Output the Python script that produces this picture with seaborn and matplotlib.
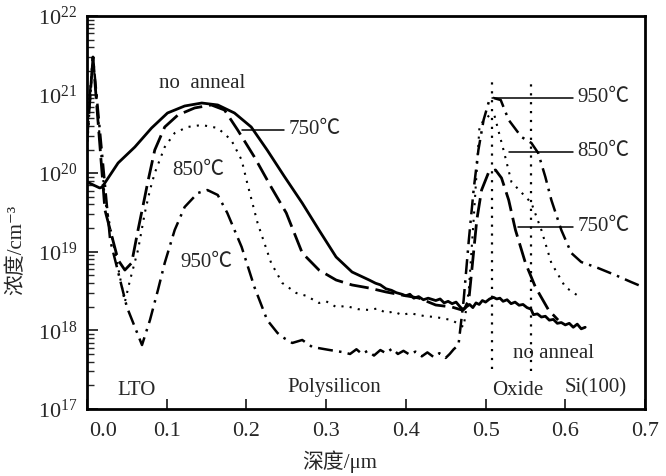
import numpy as np
import pandas as pd
import matplotlib
matplotlib.use("Agg")
import matplotlib.pyplot as plt
import matplotlib.transforms as mtransforms
from matplotlib.ticker import LogLocator, FixedLocator, NullFormatter
import seaborn as sns

# ---------------- data ----------------
# depth in um, concentration given as log10(cm^-3)
noanneal_x = [0, 0.016, 0.019, 0.039, 0.06, 0.081, 0.101, 0.1225, 0.144, 0.164,
              0.185, 0.206, 0.226, 0.2475, 0.27, 0.291, 0.3125, 0.3325,
              0.354, 0.362, 0.368, 0.375, 0.382, 0.388, 0.395, 0.40, 0.405, 0.41,
              0.416, 0.422, 0.428, 0.4375, 0.443, 0.448, 0.453, 0.458, 0.463,
              0.468, 0.472, 0.476, 0.48, 0.484, 0.488, 0.492, 0.496, 0.50, 0.505,
              0.51, 0.514, 0.518, 0.522, 0.527, 0.532, 0.537, 0.542, 0.547, 0.552,
              0.557, 0.56, 0.565, 0.57, 0.575, 0.58, 0.585, 0.59, 0.595, 0.60,
              0.605, 0.61, 0.615, 0.62, 0.625]
noanneal_log = [19.888, 19.812, 19.824, 20.130, 20.333, 20.575, 20.766, 20.855,
                20.893, 20.868, 20.766, 20.588, 20.295, 19.96, 19.62,
                19.277, 18.934, 18.743, 18.641, 18.60, 18.58, 18.53, 18.51, 18.48,
                18.46, 18.44, 18.46, 18.41, 18.43, 18.39, 18.41, 18.38, 18.40,
                18.35, 18.37, 18.34, 18.36, 18.30, 18.26, 18.30, 18.33, 18.29,
                18.35, 18.33, 18.38, 18.36, 18.40, 18.42, 18.40, 18.41, 18.37,
                18.39, 18.34, 18.36, 18.32, 18.33, 18.29, 18.27, 18.20, 18.21,
                18.17, 18.18, 18.13, 18.14, 18.09, 18.10, 18.07, 18.09, 18.04,
                18.08, 18.02, 18.04]

t750_x = [0, 0.0075, 0.0225, 0.039, 0.0475, 0.056, 0.064, 0.0725, 0.076, 0.085,
          0.0975, 0.114, 0.135, 0.156, 0.1725, 0.189, 0.21, 0.231, 0.25, 0.27,
          0.291, 0.3125, 0.3325, 0.354, 0.375, 0.395, 0.416, 0.4375, 0.4575,
          0.47, 0.474, 0.479, 0.484, 0.489, 0.495, 0.504, 0.5125, 0.52, 0.529,
          0.5375, 0.55, 0.5625, 0.579, 0.591]
t750_log = [20.42, 21.478, 19.532, 18.896, 18.768, 18.858, 19.277, 19.697, 19.875,
            20.295, 20.588, 20.740, 20.830, 20.868, 20.804, 20.550, 20.206, 19.824,
            19.494, 18.985, 18.768, 18.641, 18.578, 18.539, 18.489, 18.450, 18.412,
            18.323, 18.298, 18.260, 18.285, 18.387, 18.896, 19.405, 19.786, 20.015,
            20.041, 19.939, 19.659, 19.277, 18.858, 18.552, 18.260, 18.132]

t850_x = [0, 0.0075, 0.0225, 0.0475, 0.054, 0.064, 0.0725, 0.079, 0.085, 0.0975,
          0.11, 0.126, 0.144, 0.164, 0.181, 0.194, 0.201, 0.214, 0.231, 0.245,
          0.2625, 0.275, 0.291, 0.30, 0.3125, 0.325, 0.34, 0.354, 0.365, 0.375,
          0.385, 0.395, 0.405, 0.416, 0.425, 0.4375, 0.4475, 0.4575, 0.4725,
          0.479, 0.485, 0.4925, 0.505, 0.511, 0.5225, 0.5325, 0.5575, 0.57,
          0.5825, 0.6, 0.62]
t850_log = [20.295, 21.478, 19.659, 18.361, 18.641, 19.023, 19.494, 19.786, 20.003,
            20.333, 20.511, 20.588, 20.613, 20.575, 20.422, 20.168, 19.875, 19.366,
            18.858, 18.603, 18.476, 18.44, 18.349, 18.37, 18.298, 18.31, 18.27,
            18.260, 18.28, 18.221, 18.24, 18.196, 18.22, 18.196, 18.18, 18.170,
            18.15, 18.132, 18.043, 18.514, 19.405, 20.613, 20.74, 20.74, 20.295,
            19.888, 19.621, 19.277, 18.858, 18.552, 18.412]

t950_x = [0, 0.0075, 0.029, 0.05, 0.069, 0.079, 0.089, 0.0975, 0.11, 0.1225, 0.139,
          0.151, 0.164, 0.176, 0.194, 0.21, 0.226, 0.239, 0.245, 0.2575, 0.27,
          0.2825, 0.304, 0.32, 0.33, 0.338, 0.345, 0.352, 0.36, 0.368, 0.375,
          0.383, 0.39, 0.397, 0.405, 0.412, 0.42, 0.427, 0.435, 0.442, 0.45,
          0.455, 0.46, 0.466, 0.4725, 0.479, 0.485, 0.491, 0.4975, 0.504, 0.51,
          0.519, 0.529, 0.545, 0.5575, 0.566, 0.575, 0.5825, 0.595, 0.6075,
          0.62, 0.641, 0.6625, 0.6825, 0.6975]
t950_log = [20.55, 21.478, 19.150, 18.298, 17.814, 18.132, 18.514, 18.858, 19.277,
            19.570, 19.748, 19.786, 19.723, 19.494, 19.061, 18.552, 18.132, 17.967,
            17.916, 17.840, 17.878, 17.789, 17.751, 17.725, 17.70, 17.76, 17.70,
            17.74, 17.68, 17.75, 17.71, 17.77, 17.70, 17.74, 17.69, 17.73, 17.67,
            17.72, 17.66, 17.71, 17.65, 17.70, 17.76, 17.814, 18.387, 19.150,
            19.786, 20.295, 20.677, 20.906, 20.957, 20.931, 20.677, 20.461, 20.384,
            20.257, 19.952, 19.659, 19.277, 18.985, 18.870, 18.794, 18.705, 18.616,
            18.552]

# interface markers (oxide boundaries)
boundary_x = [0.5075, 0.5575]
x_ticks = [0.0, 0.1, 0.2, 0.3, 0.4, 0.5, 0.6, 0.7]
x_ticklabels = ["0.0", "0.1", "0.2", "0.3", "0.4", "0.5", "0.6", "0.7"]
y_ticks = [1e17, 1e18, 1e19, 1e20, 1e21, 1e22]

# ---------------- style ----------------
sns.set_style("ticks")
plt.rcParams["font.family"] = ["Liberation Serif", "Noto Sans CJK SC", "DejaVu Serif"]
plt.rcParams["mathtext.fontset"] = "custom"
plt.rcParams["mathtext.rm"] = "Liberation Serif"
plt.rcParams["mathtext.it"] = "Liberation Serif:italic"

fig = plt.figure(figsize=(6.66, 4.76), dpi=100)
ax = fig.add_axes([87 / 666, 1 - 409 / 476, (645 - 87) / 666, (409 - 16) / 476])

def draw(xs, logs, ls, lw):
    df = pd.DataFrame({"depth": xs, "conc": 10 ** np.array(logs)})
    sns.lineplot(data=df, x="depth", y="conc", ax=ax, color="black",
                 linestyle=ls, linewidth=lw, estimator=None, sort=False)

draw(noanneal_x, noanneal_log, "-", 2.0)
draw(t750_x, t750_log, (0, (7, 2.5)), 2.0)
draw(t850_x, t850_log, (0, (1, 3)), 1.5)
draw(t950_x, t950_log, (0, (6, 2.5, 1, 2.5)), 1.8)

ax.set_yscale("log")
ax.set_xlim(0, 0.7)
ax.set_ylim(1e17, 1e22)

ax.vlines(boundary_x, [3.2e17, 3.0e17], [1.45e21, 1.45e21], colors="black",
          linestyles=(0, (1, 3)), linewidth=1.6)

# annotation leader lines
ax.plot([0.195, 0.2475], [10 ** 20.55] * 2, color="black", lw=1.1)
ax.plot([0.5075, 0.61], [10 ** 20.957] * 2, color="black", lw=1.1)
ax.plot([0.529, 0.61], [10 ** 20.27] * 2, color="black", lw=1.1)
ax.plot([0.541, 0.61], [10 ** 19.316] * 2, color="black", lw=1.1)

fs = 15
ax.text(0.2525, 10 ** 20.55, "750℃", fontsize=fs, va="center", ha="left")
ax.text(0.615, 10 ** 20.957, "950℃", fontsize=fs, va="center", ha="left")
ax.text(0.615, 10 ** 20.27, "850℃", fontsize=fs, va="center", ha="left")
ax.text(0.615, 10 ** 19.316, "750℃", fontsize=fs, va="center", ha="left")
ax.text(0.145, 10 ** 21.14, "no  anneal", fontsize=fs, va="center", ha="center")
ax.text(0.14, 10 ** 20.04, "850℃", fontsize=fs, va="center", ha="center")
ax.text(0.15, 10 ** 18.87, "950℃", fontsize=fs, va="center", ha="center")
ax.text(0.585, 10 ** 17.71, "no anneal", fontsize=fs, va="center", ha="center")
ax.text(0.0625, 10 ** 17.24, "LTO", fontsize=fs, va="center", ha="center")
ax.text(0.31, 10 ** 17.27, "Polysilicon", fontsize=fs, va="center", ha="center")
ax.text(0.54, 10 ** 17.23, "Oxide", fontsize=fs, va="center", ha="center")
ax.text(0.638, 10 ** 17.27, "Si(100)", fontsize=fs, va="center", ha="center")

# axes, ticks
ax.xaxis.set_major_locator(FixedLocator(x_ticks))
ax.set_xticklabels(x_ticklabels, fontsize=16)
ax.yaxis.set_major_locator(FixedLocator(y_ticks))
ax.set_yticklabels([r"$\mathdefault{10^{%d}}$" % e for e in range(17, 23)], fontsize=16)
ax.yaxis.set_minor_locator(LogLocator(base=10, subs=np.arange(2, 10), numticks=20))
ax.yaxis.set_minor_formatter(NullFormatter())
ax.tick_params(axis="x", direction="in", length=7, width=1.3, pad=9)
ax.tick_params(axis="y", which="major", direction="in", length=8, width=1.3, pad=7)
ax.tick_params(axis="y", which="minor", direction="in", length=5, width=1.0)
for s in ax.spines.values():
    s.set_linewidth(2.0)
    s.set_color("black")

# shift the "0.0" label to the right as in the reference
lbl0 = ax.get_xticklabels()[0]
lbl0.set_transform(lbl0.get_transform() + mtransforms.ScaledTranslation(16 / 100, 0, fig.dpi_scale_trans))

ax.set_xlabel("深度/μm", fontsize=15)
ax.set_ylabel("浓度/cm⁻³", fontsize=15)
ax.xaxis.set_label_coords((340 - 87) / 558, (409 - 450) / 393)
ax.yaxis.set_label_coords((26 - 87) / 558, (409 - 250) / 393)

fig.savefig("out.png", dpi=100)
